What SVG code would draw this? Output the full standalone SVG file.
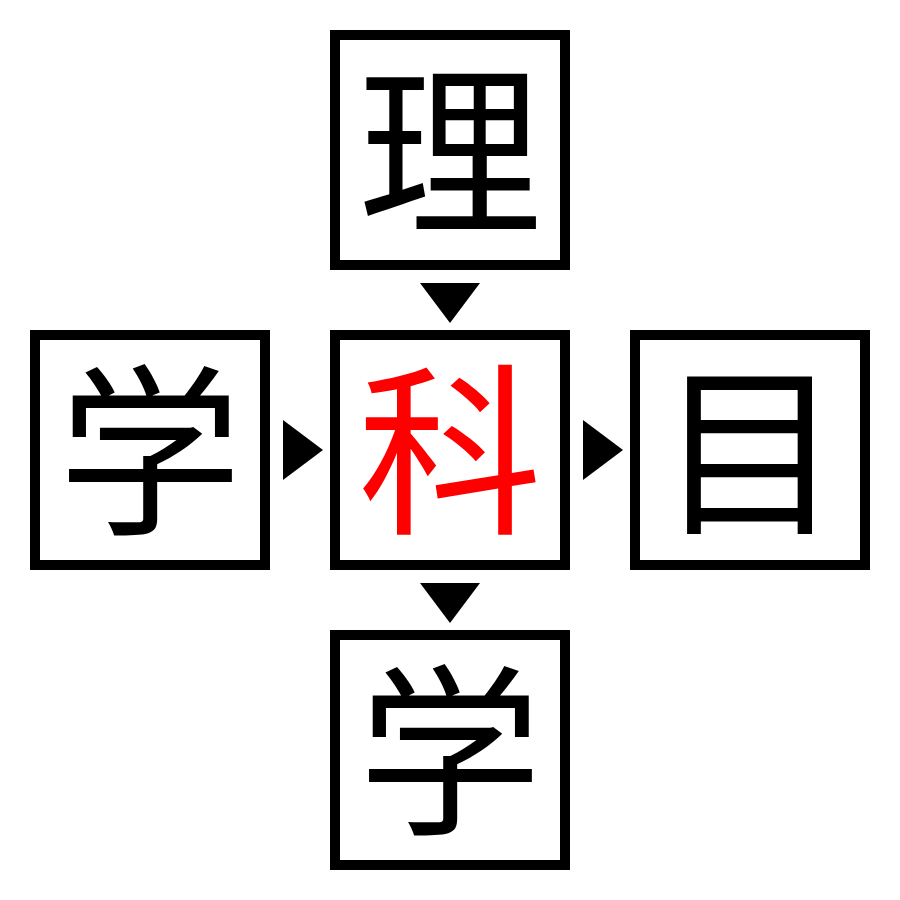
<svg xmlns="http://www.w3.org/2000/svg" width="900" height="900" viewBox="0 0 900 900">
<style>
.box{fill:#fff;stroke:#000;stroke-width:10}
.ch{font-family:"Noto Sans CJK JP","Noto Sans CJK SC",sans-serif;font-size:184px;text-anchor:middle;fill:#000}
.red{fill:#ff0000}
.arr{fill:#000}
</style>
<rect width="900" height="900" fill="#fff"/>
<g id="top"><rect class="box" x="335" y="35" width="230" height="230"/><text class="ch" x="450" y="220">理</text></g>
<g id="left"><rect class="box" x="35" y="335" width="230" height="230"/><text class="ch" x="150" y="520">学</text></g>
<g id="center"><rect class="box" x="335" y="335" width="230" height="230"/><text class="ch red" x="450" y="520">科</text></g>
<g id="right"><rect class="box" x="635" y="335" width="230" height="230"/><text class="ch" x="750" y="520">目</text></g>
<g id="bottom"><rect class="box" x="335" y="635" width="230" height="230"/><text class="ch" x="450" y="820">学</text></g>
<g id="connectors">
<polygon class="arr" points="420,283 480,283 450,323"/>
<polygon class="arr" points="283,420 283,480 323,450"/>
<polygon class="arr" points="583,420 583,480 623,450"/>
<polygon class="arr" points="420,583 480,583 450,623"/>
</g>
</svg>
